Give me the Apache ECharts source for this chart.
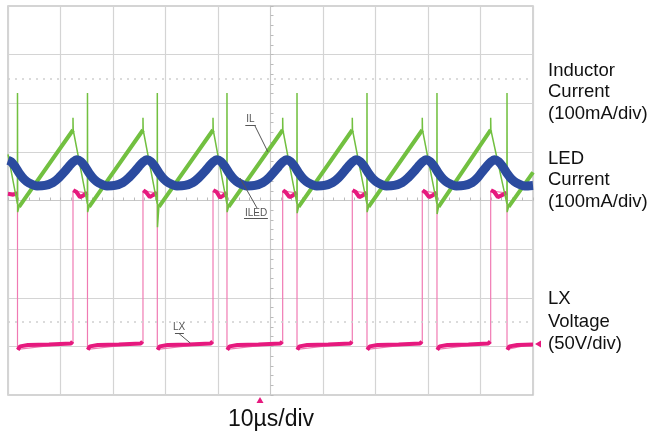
<!DOCTYPE html>
<html>
<head>
<meta charset="utf-8">
<script src="https://cdn.jsdelivr.net/npm/echarts@6/dist/echarts.min.js"></script>
<style>
html, body { margin: 0; background: #fff; }
#scope { width: 652px; height: 438px; }
</style>
</head>
<body>
<div id="scope"></div>
<script>
// time in us (10us/div), amplitude in screen divisions (8 div high, 0 = centre line)
var timeTicks = [0, 10, 20, 30, 40, 50, 60, 70, 80, 90, 100];
var divTicks = [-4, -3, -2, -1, 0, 1, 2, 3, 4];

// LX switch node, thin trace with the edges
var lxTrace = [
    [0, 0.15], [1.81, 0.15], [1.81, -3.06], [12.38, -2.93], [12.38, 0.20],
    [15.14, 0.15], [15.14, -3.06], [25.71, -2.93], [25.71, 0.20],
    [28.44, 0.15], [28.44, -3.06], [39.05, -2.93], [39.05, 0.20],
    [41.71, 0.15], [41.71, -3.06], [52.32, -2.93], [52.32, 0.20],
    [55.05, 0.15], [55.05, -3.06], [65.58, -2.93], [65.58, 0.20],
    [68.38, 0.15], [68.38, -3.06], [78.91, -2.93], [78.91, 0.20],
    [81.71, 0.15], [81.71, -3.06], [91.94, -2.93], [91.94, 0.20],
    [95.05, 0.15], [95.05, -3.06], [100, -2.95]
];
// LX plateaus (the noisy thick parts), '-' breaks the line
var lxLevel = [
    [0, 0.14], [1.0, 0.12], [1.76, 0.15], [1.78, '-'],
    [1.86, -3.07], [2.3, -3.00], [3.8, -2.97], [7.8, -2.96], [12.0, -2.94], [12.3, -2.90], [12.35, '-'],
    [12.43, 0.21], [13.0, 0.18], [13.7, 0.07], [14.3, 0.10], [15.09, 0.16], [15.11, '-'],
    [15.19, -3.07], [15.6, -3.00], [17.1, -2.97], [21.1, -2.96], [25.3, -2.94], [25.64, -2.90], [25.68, '-'],
    [25.76, 0.21], [26.3, 0.17], [27.0, 0.07], [27.6, 0.11], [28.39, 0.16], [28.41, '-'],
    [28.49, -3.07], [28.9, -3.00], [30.4, -2.97], [34.4, -2.96], [38.6, -2.94], [38.98, -2.90], [39.02, '-'],
    [39.10, 0.21], [39.7, 0.18], [40.4, 0.06], [41.0, 0.10], [41.66, 0.16], [41.68, '-'],
    [41.76, -3.07], [42.2, -3.00], [43.7, -2.97], [47.7, -2.96], [51.9, -2.94], [52.25, -2.90], [52.29, '-'],
    [52.37, 0.21], [52.9, 0.17], [53.6, 0.07], [54.2, 0.10], [55.0, 0.16], [55.02, '-'],
    [55.10, -3.07], [55.5, -3.00], [57.0, -2.97], [61.0, -2.96], [65.2, -2.94], [65.51, -2.90], [65.55, '-'],
    [65.63, 0.21], [66.2, 0.18], [66.9, 0.07], [67.5, 0.10], [68.33, 0.16], [68.35, '-'],
    [68.43, -3.07], [68.9, -3.00], [70.4, -2.97], [74.4, -2.96], [78.5, -2.94], [78.84, -2.90], [78.88, '-'],
    [78.96, 0.21], [79.5, 0.17], [80.2, 0.07], [80.8, 0.10], [81.66, 0.16], [81.68, '-'],
    [81.76, -3.07], [82.2, -3.00], [83.7, -2.97], [87.7, -2.96], [91.5, -2.94], [91.87, -2.90], [91.91, '-'],
    [91.99, 0.21], [92.6, 0.18], [93.3, 0.07], [93.9, 0.10], [95.0, 0.16], [95.02, '-'],
    [95.10, -3.07], [95.5, -3.00], [97.0, -2.97], [100, -2.96]
];

// inductor current, full trace incl. switching spikes
var ilTrace = [
    [0, 0.95], [1.79, -0.07], [1.81, 2.21], [1.84, -0.24], [2.1, -0.13],
    [12.38, 1.45], [12.38, 1.70], [12.42, 1.45], [15.12, -0.07], [15.14, 2.21], [15.17, -0.24], [15.44, -0.13],
    [25.71, 1.45], [25.71, 1.70], [25.75, 1.45], [28.42, -0.07], [28.44, 2.21], [28.47, -0.55], [28.74, -0.13],
    [39.05, 1.45], [39.05, 1.70], [39.09, 1.45], [41.69, -0.07], [41.71, 2.21], [41.74, -0.24], [42.01, -0.13],
    [52.32, 1.45], [52.32, 1.70], [52.36, 1.45], [55.03, -0.07], [55.05, 2.21], [55.08, -0.26], [55.35, -0.13],
    [65.58, 1.45], [65.58, 1.70], [65.62, 1.45], [68.36, -0.07], [68.38, 2.21], [68.41, -0.24], [68.68, -0.13],
    [78.91, 1.45], [78.91, 1.70], [78.95, 1.45], [81.69, -0.07], [81.71, 2.21], [81.74, -0.28], [82.01, -0.13],
    [91.94, 1.45], [91.94, 1.70], [91.98, 1.45], [95.03, -0.07], [95.05, 2.21], [95.08, -0.24], [95.35, -0.13],
    [100, 0.58]
];
// inductor current up-ramps (thick)
var ilRamp = [
    [2.1, -0.13], [12.38, 1.45], [12.4, '-'],
    [15.44, -0.13], [25.71, 1.45], [25.72, '-'],
    [28.74, -0.13], [39.05, 1.45], [39.06, '-'],
    [42.01, -0.13], [52.32, 1.45], [52.33, '-'],
    [55.35, -0.13], [65.58, 1.45], [65.59, '-'],
    [68.68, -0.13], [78.91, 1.45], [78.92, '-'],
    [82.01, -0.13], [91.94, 1.45], [91.95, '-'],
    [95.35, -0.13], [100, 0.58]
];

// LED current
var ledTrace = [
    [0, 0.83], [0.57, 0.80], [1.33, 0.70], [2.10, 0.57], [3.05, 0.44], [4.00, 0.36], [5.52, 0.30], [7.05, 0.31], [8.57, 0.37], [9.71, 0.47], [10.84, 0.60], [11.61, 0.70], [12.37, 0.79],
    [13.13, 0.84], [13.89, 0.80], [14.65, 0.70], [15.42, 0.57], [16.37, 0.44], [17.32, 0.36], [18.84, 0.30], [20.37, 0.31], [21.89, 0.37], [23.03, 0.47], [24.17, 0.60], [24.94, 0.70], [25.70, 0.79],
    [26.46, 0.84], [27.22, 0.80], [27.98, 0.70], [28.75, 0.57], [29.70, 0.44], [30.65, 0.36], [32.17, 0.30], [33.70, 0.31], [35.22, 0.37], [36.36, 0.47], [37.51, 0.60], [38.28, 0.70], [39.04, 0.79],
    [39.80, 0.84], [40.56, 0.80], [41.32, 0.70], [42.09, 0.57], [43.04, 0.44], [43.99, 0.36], [45.51, 0.30], [47.04, 0.31], [48.56, 0.37], [49.70, 0.47], [50.78, 0.60], [51.55, 0.70], [52.31, 0.79],
    [53.07, 0.84], [53.83, 0.80], [54.59, 0.70], [55.36, 0.57], [56.31, 0.44], [57.26, 0.36], [58.78, 0.30], [60.31, 0.31], [61.83, 0.37], [62.97, 0.47], [64.04, 0.60], [64.81, 0.70], [65.57, 0.79],
    [66.33, 0.84], [67.09, 0.80], [67.85, 0.70], [68.62, 0.57], [69.57, 0.44], [70.52, 0.36], [72.04, 0.30], [73.57, 0.31], [75.09, 0.37], [76.23, 0.47], [77.37, 0.60], [78.14, 0.70], [78.90, 0.79],
    [79.66, 0.84], [80.42, 0.80], [81.18, 0.70], [81.95, 0.57], [82.90, 0.44], [83.85, 0.36], [85.37, 0.30], [86.90, 0.31], [88.42, 0.37], [89.46, 0.47], [90.40, 0.60], [91.17, 0.70], [91.93, 0.79],
    [92.69, 0.84], [93.45, 0.80], [94.21, 0.70], [94.98, 0.57], [95.93, 0.44], [96.88, 0.36], [98.40, 0.30], [100, 0.31]
];

var ilText = ['Inductor', 'Current', '(100mA/div)'];
var ledText = ['LED', 'Current', '(100mA/div)'];
var lxText = ['LX', 'Voltage', '(50V/div)'];
var timebase = '10\u00b5s/div';

var font = '"Liberation Sans", Arial, sans-serif';
var pink = '#e6197e', green = '#72c040', blue = '#2b4b9f';
var gridGray = '#d4d4d4';

function tag(text, at) {
    return {
        coord: at, symbol: 'rect', symbolSize: 1,
        itemStyle: { color: 'rgba(0,0,0,0)' },
        label: { show: true, position: 'inside', formatter: text, color: '#555', fontSize: 10, fontFamily: font }
    };
}
function seg(a, b) {
    return [{ coord: a }, { coord: b }];
}
var leader = { color: '#555', width: 1, type: 'solid' };

var scope_option = {
    animation: false,
    grid: {
        left: 8, right: 119, top: 6, bottom: 43,
        show: true, backgroundColor: '#fff', borderColor: '#c6c6c6', borderWidth: 1.5
    },
    xAxis: [
        {
            type: 'value', min: timeTicks[0], max: timeTicks[timeTicks.length - 1], interval: 10,
            axisLabel: { show: false },
            axisLine: { onZero: true, lineStyle: { color: '#c8c8c8', width: 1 } },
            axisTick: { show: true, inside: true, length: 3, lineStyle: { color: '#bbb' } },
            minorTick: { show: true, splitNumber: 5, length: 3, lineStyle: { color: '#bbb' } },
            splitLine: { show: true, lineStyle: { color: gridGray, width: 1.2 } }
        },
        // hidden helper axis so the vertical centre line sits in the middle
        { type: 'value', min: -50, max: 50, show: false }
    ],
    yAxis: {
        type: 'value', min: divTicks[0], max: divTicks[divTicks.length - 1], interval: 1,
        axisLabel: { show: false },
        axisLine: { onZero: true, onZeroAxisIndex: 1, lineStyle: { color: '#c8c8c8', width: 1 } },
        axisTick: { show: true, inside: true, length: 3, lineStyle: { color: '#bbb' } },
        minorTick: { show: true, splitNumber: 5, length: 3, lineStyle: { color: '#bbb' } },
        splitLine: { show: true, lineStyle: { color: gridGray, width: 1.2 } }
    },
    graphic: [
        { type: 'text', left: 548, top: 60, style: { text: ilText.join('\n'), font: '18.5px ' + font, lineHeight: 21.5, fill: '#111' } },
        { type: 'text', left: 548, top: 148, style: { text: ledText.join('\n'), font: '18.5px ' + font, lineHeight: 21.5, fill: '#111' } },
        { type: 'text', left: 548, top: 288, style: { text: lxText.join('\n'), font: '18.5px ' + font, lineHeight: 22.5, fill: '#111' } },
        { type: 'text', x: 271, y: 420, style: { text: timebase, font: '23px ' + font, fill: '#111', align: 'center', verticalAlign: 'middle' } }
    ],
    series: [
        {
            name: 'LX', type: 'line', data: lxTrace, symbol: 'none',
            lineStyle: { color: '#f07ab3', width: 1.2 },
            markPoint: {
                silent: true,
                data: [
                    // trigger position
                    { coord: [48, -4], symbol: 'triangle', symbolSize: [7, 6], symbolOffset: [0, 5],
                      itemStyle: { color: pink }, label: { show: false } },
                    // ground marker
                    { coord: [100, -2.95], symbol: 'path://M0,5L10,0L10,10Z', symbolSize: [6, 7], symbolOffset: [5, 0],
                      itemStyle: { color: pink }, label: { show: false } },
                    tag('LX', [32.57, -2.60])
                ]
            },
            markLine: {
                silent: true, symbol: ['none', 'none'], label: { show: false },
                lineStyle: leader,
                data: [
                    seg([31.8, -2.73], [33.5, -2.73]),
                    seg([32.6, -2.74], [34.7, -2.93])
                ]
            }
        },
        {
            name: 'LX level', type: 'line', data: lxLevel, symbol: 'none',
            lineStyle: { color: pink, width: 4 }
        },
        {
            name: 'IL', type: 'line', data: ilTrace, symbol: 'none',
            lineStyle: { color: green, width: 1.5 },
            markPoint: { silent: true, data: [tag('IL', [46.19, 1.667])] },
            markLine: {
                silent: true, symbol: ['none', 'none'], label: { show: false },
                lineStyle: leader,
                data: [
                    seg([45.2, 1.553], [47.2, 1.553]),
                    seg([47.05, 1.533], [49.5, 1.0])
                ]
            }
        },
        {
            name: 'IL ramp', type: 'line', data: ilRamp, symbol: 'none',
            lineStyle: { color: green, width: 4 }
        },
        {
            name: 'ILED', type: 'line', data: ledTrace, symbol: 'none', smooth: 0.3,
            lineStyle: { color: blue, width: 9 },
            markPoint: { silent: true, data: [tag('ILED', [47.24, -0.267])] },
            markLine: {
                silent: true, symbol: ['none', 'none'], label: { show: false },
                lineStyle: leader,
                data: [
                    { yAxis: 2.5, lineStyle: { color: '#cfcfcf', width: 1.5, type: [2, 5] } },
                    { yAxis: -2.5, lineStyle: { color: '#cfcfcf', width: 1.5, type: [2, 5] } },
                    seg([44.95, -0.36], [49.5, -0.36]),
                    seg([47.43, -0.154], [44.19, 0.463])
                ]
            }
        }
    ]
};

var scope_chart = echarts.init(document.getElementById('scope'));
scope_chart.setOption(scope_option);
</script>
</body>
</html>
